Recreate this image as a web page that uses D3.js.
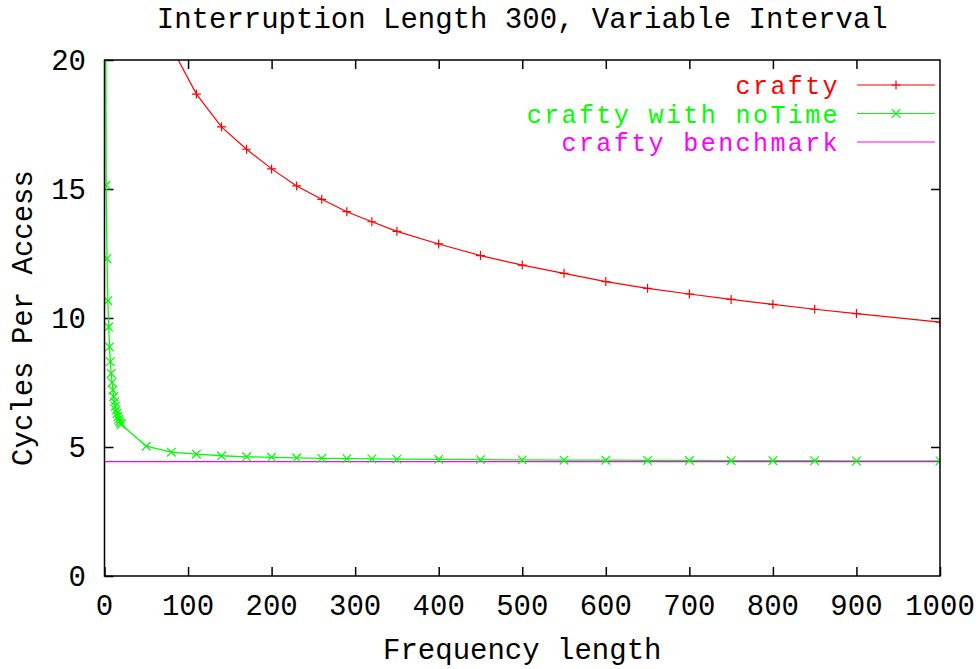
<!DOCTYPE html>
<html>
<head>
<meta charset="utf-8">
<script src="https://cdn.jsdelivr.net/npm/d3@7"></script>
<style>
  html, body { margin: 0; padding: 0; background: #fff; }
  svg { display: block; }
  text { font-family: "Liberation Mono", "DejaVu Sans Mono", monospace; font-size: 29px; fill: #000; }
  .legend text { font-size: 25px; letter-spacing: 2.4px; }
</style>
</head>
<body>
<svg id="chart" width="979" height="669"></svg>
<script>
// ---- data ----
const title = "Interruption Length 300, Variable Interval";
const xLabel = "Frequency length";
const yLabel = "Cycles Per Access";
const xTicks = [0, 100, 200, 300, 400, 500, 600, 700, 800, 900, 1000];
const yTicks = [0, 5, 10, 15, 20];
const seriesNames = ["crafty", "crafty with noTime", "crafty benchmark"];

const craftyX = [50, 80, 110, 140, 170, 200, 230, 260, 290, 320, 350, 400, 450, 500, 550, 600, 650, 700, 750, 800, 850, 900, 1000];
const craftyY = [24.0, 20.5, 18.68, 17.41, 16.54, 15.78, 15.12, 14.60, 14.12, 13.73, 13.36, 12.87, 12.42, 12.05, 11.73, 11.41, 11.15, 10.93, 10.72, 10.53, 10.34, 10.17, 9.84];

const noTimeX = [1, 2, 3, 4, 5, 6, 7, 8, 9, 10, 11, 12, 13, 14, 15, 16, 17, 18, 19, 20, 50, 80, 110, 140, 170, 200, 230, 260, 290, 320, 350, 400, 450, 500, 550, 600, 650, 700, 750, 800, 850, 900, 1000];
const noTimeY = [27.0, 15.15, 12.30, 10.67, 9.65, 8.88, 8.31, 7.85, 7.50, 7.20, 6.95, 6.75, 6.58, 6.43, 6.30, 6.18, 6.08, 6.00, 5.93, 5.87, 5.03, 4.80, 4.72, 4.66, 4.62, 4.60, 4.58, 4.56, 4.55, 4.54, 4.53, 4.52, 4.51, 4.50, 4.49, 4.49, 4.48, 4.48, 4.47, 4.47, 4.47, 4.46, 4.46];

const benchmarkX = [0, 1000];
const benchmarkY = [4.43, 4.43];

// ---- layout ----
const svg = d3.select("#chart");
const L = 104.5, R = 940, T = 60, B = 576;
const x = d3.scaleLinear().domain([0, 1000]).range([L, R]);
const y = d3.scaleLinear().domain([0, 20]).range([B, T]);

svg.append("defs").append("clipPath").attr("id", "clip")
  .append("rect").attr("x", L).attr("y", T).attr("width", R - L).attr("height", B - T);

// ticks (inward, mirrored)
const tickLen = 9;
const axB = svg.append("g").attr("transform", `translate(0,${B})`)
  .call(d3.axisBottom(x).tickValues(xTicks).tickSizeInner(-tickLen).tickSizeOuter(0).tickPadding(0).tickFormat(""));
const axT = svg.append("g").attr("transform", `translate(0,${T})`)
  .call(d3.axisTop(x).tickValues(xTicks.slice(1, -1)).tickSizeInner(-tickLen).tickSizeOuter(0).tickFormat(""));
const axL = svg.append("g").attr("transform", `translate(${L},0)`)
  .call(d3.axisLeft(y).tickValues(yTicks).tickSizeInner(-tickLen).tickSizeOuter(0).tickFormat(""));
const axR = svg.append("g").attr("transform", `translate(${R},0)`)
  .call(d3.axisRight(y).tickValues(yTicks.slice(1, -1)).tickSizeInner(-tickLen).tickSizeOuter(0).tickFormat(""));
[axB, axT, axL, axR].forEach(g => {
  g.select(".domain").remove();
  g.selectAll("line").attr("stroke", "#000").attr("stroke-width", 1.5);
});

// tick labels
svg.append("g").selectAll("text").data(xTicks).join("text")
  .attr("x", d => x(d)).attr("y", 615).attr("text-anchor", "middle").text(d => d);
svg.append("g").selectAll("text").data(yTicks).join("text")
  .attr("x", 86).attr("y", d => y(d) + 10).attr("text-anchor", "end").text(d => d);

// titles
svg.append("text").attr("x", (L + R) / 2).attr("y", 28).attr("text-anchor", "middle").text(title);
svg.append("text").attr("x", (L + R) / 2).attr("y", 659).attr("text-anchor", "middle").text(xLabel);
svg.append("text").attr("transform", `translate(32,${(T + B) / 2}) rotate(-90)`).attr("text-anchor", "middle").text(yLabel);

// series
const colors = ["#ff0000", "#00ff00", "#ff00ff"];
const line = d3.line().x(d => x(d[0])).y(d => y(d[1]));
const plot = svg.append("g").attr("clip-path", "url(#clip)");

const craftyPts = craftyX.map((v, i) => [v, craftyY[i]]);
const noTimePts = noTimeX.map((v, i) => [v, noTimeY[i]]);
const benchPts = benchmarkX.map((v, i) => [v, benchmarkY[i]]);

plot.append("path").datum(craftyPts).attr("d", line).attr("fill", "none").attr("stroke", colors[0]).attr("stroke-width", 1.2);
plot.append("path").datum(noTimePts).attr("d", line).attr("fill", "none").attr("stroke", colors[1]).attr("stroke-width", 1.3);
plot.append("path").datum(benchPts).attr("d", line).attr("fill", "none").attr("stroke", colors[2]).attr("stroke-width", 1.2);

const inside = d => d[1] <= 20 && d[1] >= 0;
const s = 4.5;
plot.append("g").selectAll("path").data(craftyPts.filter(inside)).join("path")
  .attr("d", d => `M${x(d[0]) - s},${y(d[1])}H${x(d[0]) + s}M${x(d[0])},${y(d[1]) - s}V${y(d[1]) + s}`)
  .attr("stroke", colors[0]).attr("stroke-width", 1.2).attr("fill", "none");
const sx = 4.3;
plot.append("g").selectAll("path").data(noTimePts.filter(inside)).join("path")
  .attr("d", d => `M${x(d[0]) - sx},${y(d[1]) - sx}L${x(d[0]) + sx},${y(d[1]) + sx}M${x(d[0]) - sx},${y(d[1]) + sx}L${x(d[0]) + sx},${y(d[1]) - sx}`)
  .attr("stroke", colors[1]).attr("stroke-width", 1.2).attr("fill", "none");

// border
svg.append("rect").attr("x", L).attr("y", T).attr("width", R - L).attr("height", B - T)
  .attr("fill", "none").attr("stroke", "#000").attr("stroke-width", 1.5);

// legend
const legRows = [85, 113.5, 142];
const leg = svg.append("g").attr("class", "legend");
seriesNames.forEach((name, i) => {
  leg.append("text").attr("x", 840).attr("y", legRows[i] + 9).attr("text-anchor", "end")
    .style("fill", colors[i]).text(name);
  leg.append("line").attr("x1", 857).attr("x2", 935).attr("y1", legRows[i]).attr("y2", legRows[i])
    .attr("stroke", colors[i]).attr("stroke-width", 1.2);
});
const mx = 896;
leg.append("path").attr("d", `M${mx - s},${legRows[0]}H${mx + s}M${mx},${legRows[0] - s}V${legRows[0] + s}`)
  .attr("stroke", colors[0]).attr("stroke-width", 1.2);
leg.append("path").attr("d", `M${mx - sx},${legRows[1] - sx}L${mx + sx},${legRows[1] + sx}M${mx - sx},${legRows[1] + sx}L${mx + sx},${legRows[1] - sx}`)
  .attr("stroke", colors[1]).attr("stroke-width", 1.2);
</script>
</body>
</html>
